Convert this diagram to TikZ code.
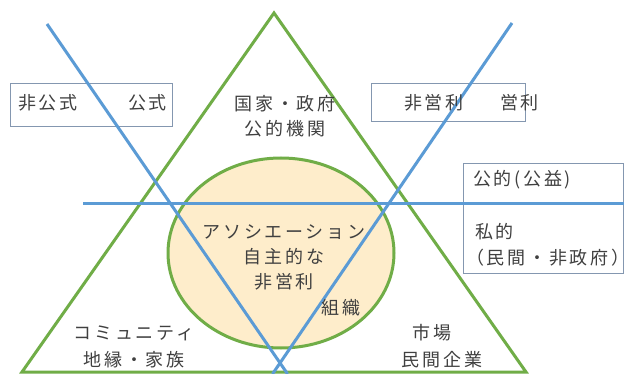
\documentclass[tikz,border=0pt]{standalone}
\usepackage{fontspec}
\usetikzlibrary{shapes.geometric}
\newfontfamily\jp[LetterSpace=15]{Noto Sans CJK JP}
\definecolor{tgreen}{HTML}{70AD47}
\definecolor{tblue}{HTML}{5B9BD5}
\definecolor{tbox}{HTML}{8497B0}
\definecolor{tfill}{HTML}{FEEDCB}
\definecolor{tgray}{HTML}{404040}
\begin{document}
\begin{tikzpicture}[x=1pt,y=-1pt,
  txt/.style={font=\jp\fontsize{18}{25}\selectfont, text=tgray, inner sep=0pt, align=center},
  greenline/.style={draw=tgreen, line width=3pt},
  blueline/.style={draw=tblue, line width=3pt},
  boxst/.style={draw=tbox, line width=1pt, inner sep=0pt, anchor=north west}]
\useasboundingbox (0,0) rectangle (624,374);
\fill[white] (0,0) rectangle (624,374);
% ellipse
\node[ellipse, greenline, fill=tfill, minimum width=226pt, minimum height=190pt, inner sep=0pt] (org) at (281,253) {};
% triangle
\coordinate (apex) at (274,13);
\coordinate (br) at (526,372);
\coordinate (bl) at (22,372);
\draw[greenline, line join=miter] (apex) -- (br) -- (bl) -- cycle;
% boxes
\node[boxst, minimum width=162pt, minimum height=43pt] (b1) at (10,83) {};
\node[boxst, minimum width=154pt, minimum height=38pt] (b2) at (371,83) {};
\node[boxst, minimum width=160pt, minimum height=110pt] (b3) at (463,163) {};
% blue lines
\coordinate (l1a) at (47,24);
\coordinate (l1b) at (287.6,374);
\coordinate (l2a) at (512,23);
\coordinate (l2b) at (272.5,374);
\coordinate (h1a) at (83,204);
\coordinate (h1b) at (624,204);
\draw[blueline] (l1a) -- (l1b);
\draw[blueline] (l2a) -- (l2b);
\draw[blueline] (h1a) -- (h1b);
% texts
\node[txt] (gov) at (285,116.5) {国家・政府\\公的機関};
\node[txt] (assoc) at (284,257) {アソシエーション\\自主的な\\非営利};
\node[txt] (sosh) at (341,308) {組織};
\node[txt, font=\jp\fontsize{18}{27}\selectfont] (comm) at (134,346.5) {コミュニティ\\地縁・家族};
\node[txt] (mkt1) at (432,333) {市場};
\node[txt] (mkt2) at (442,360) {民間企業};
\node[txt, anchor=west] (hk) at (18,103) {非公式};
\node[txt, anchor=east] (k) at (167,103) {公式};
\node[txt] (hei) at (434,103) {非営利};
\node[txt] (ei) at (519.5,103) {営利};
\node[txt, anchor=west] (pub) at (473,180) {公的(公益)};
\node[txt, anchor=west] (priv) at (475,232) {私的};
\node[txt, anchor=west] (priv2) at (466,258) {（民間・非政府）};
\end{tikzpicture}
\end{document}
